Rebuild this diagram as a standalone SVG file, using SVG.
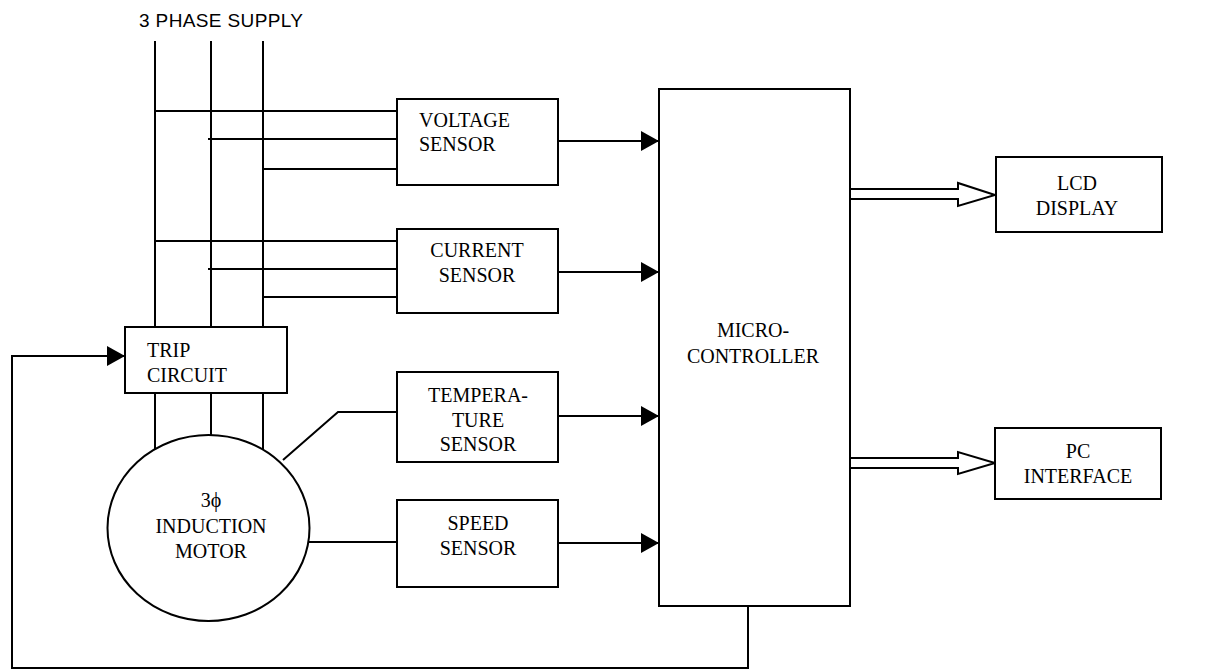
<svg xmlns="http://www.w3.org/2000/svg" width="1231" height="671" viewBox="0 0 1231 671">
<style>
.box{fill:#fff;stroke:#000;stroke-width:2}
.ln{fill:none;stroke:#000;stroke-width:2}
.t{font-family:"Liberation Serif","Times New Roman",serif;font-size:20px;fill:#000}
.c{text-anchor:middle}
.s{font-family:"Liberation Sans",Arial,sans-serif;font-size:19px;fill:#000}
</style>
<defs>
<marker id="ah" markerUnits="userSpaceOnUse" markerWidth="20" markerHeight="20" viewBox="0 0 18 20" refX="18" refY="10" orient="auto">
<path d="M0,0 L18,10 L0,20 z" fill="#000"/>
</marker>
</defs>
<rect width="1231" height="671" fill="#fff"/>
<text class="s" x="139" y="27" textLength="164">3 PHASE SUPPLY</text>
<g id="connectors">
<!-- phase lines -->
<line class="ln" x1="155" y1="41" x2="155" y2="327"/>
<line class="ln" x1="211" y1="41" x2="211" y2="327"/>
<line class="ln" x1="263" y1="41" x2="263" y2="327"/>
<line class="ln" x1="155" y1="393" x2="155" y2="449"/>
<line class="ln" x1="211" y1="393" x2="211" y2="435"/>
<line class="ln" x1="263" y1="393" x2="263" y2="450"/>
<!-- voltage inputs -->
<line class="ln" x1="155" y1="111" x2="397" y2="111"/>
<line class="ln" x1="208" y1="139" x2="397" y2="139"/>
<line class="ln" x1="263" y1="169" x2="397" y2="169"/>
<!-- current inputs -->
<line class="ln" x1="155" y1="241" x2="397" y2="241"/>
<line class="ln" x1="208" y1="269" x2="397" y2="269"/>
<line class="ln" x1="263" y1="297" x2="397" y2="297"/>
<!-- motor to sensors -->
<polyline class="ln" points="283,460 338,412 397,412"/>
<line class="ln" x1="308" y1="542" x2="397" y2="542"/>
<!-- sensor outputs -->
<line class="ln" x1="558" y1="141" x2="659" y2="141" marker-end="url(#ah)"/>
<line class="ln" x1="558" y1="272" x2="659" y2="272" marker-end="url(#ah)"/>
<line class="ln" x1="558" y1="416" x2="659" y2="416" marker-end="url(#ah)"/>
<line class="ln" x1="558" y1="543" x2="659" y2="543" marker-end="url(#ah)"/>
<!-- feedback -->
<polyline class="ln" points="748,606 748,668 12,668 12,356 125,356" marker-end="url(#ah)"/>
<!-- hollow arrows -->
<polygon class="box" points="850,189 958,189 958,183 995,195 958,206 958,199 850,199"/>
<polygon class="box" points="850,458 958,458 958,452 995,463 958,474 958,468 850,468"/>
</g>
<g id="trip">
<rect class="box" x="125" y="327" width="162" height="66"/>
<text class="t" x="147" y="357">TRIP</text>
<text class="t" x="147" y="382">CIRCUIT</text>
</g>
<g id="motor">
<ellipse class="box" cx="208.5" cy="528" rx="101" ry="93"/>
<text class="t c" x="211" y="507">3ϕ</text>
<text class="t c" x="211" y="533">INDUCTION</text>
<text class="t c" x="211" y="558">MOTOR</text>
</g>
<g id="voltage">
<rect class="box" x="397" y="99" width="161" height="86"/>
<text class="t" x="419" y="127">VOLTAGE</text>
<text class="t" x="419" y="151">SENSOR</text>
</g>
<g id="current">
<rect class="box" x="397" y="229" width="161" height="84"/>
<text class="t c" x="477" y="257">CURRENT</text>
<text class="t c" x="477" y="282">SENSOR</text>
</g>
<g id="temperature">
<rect class="box" x="397" y="372" width="161" height="90"/>
<text class="t c" x="478" y="402">TEMPERA-</text>
<text class="t c" x="478" y="427">TURE</text>
<text class="t c" x="478" y="451">SENSOR</text>
</g>
<g id="speed">
<rect class="box" x="397" y="500" width="161" height="87"/>
<text class="t c" x="478" y="530">SPEED</text>
<text class="t c" x="478" y="555">SENSOR</text>
</g>
<g id="micro">
<rect class="box" x="659" y="89" width="191" height="517"/>
<text class="t c" x="753" y="337">MICRO-</text>
<text class="t c" x="753" y="363">CONTROLLER</text>
</g>
<g id="lcd">
<rect class="box" x="996" y="157" width="166" height="75"/>
<text class="t c" x="1077" y="190">LCD</text>
<text class="t c" x="1077" y="215">DISPLAY</text>
</g>
<g id="pc">
<rect class="box" x="995" y="428" width="166" height="71"/>
<text class="t c" x="1078" y="458">PC</text>
<text class="t c" x="1078" y="483">INTERFACE</text>
</g>
</svg>
